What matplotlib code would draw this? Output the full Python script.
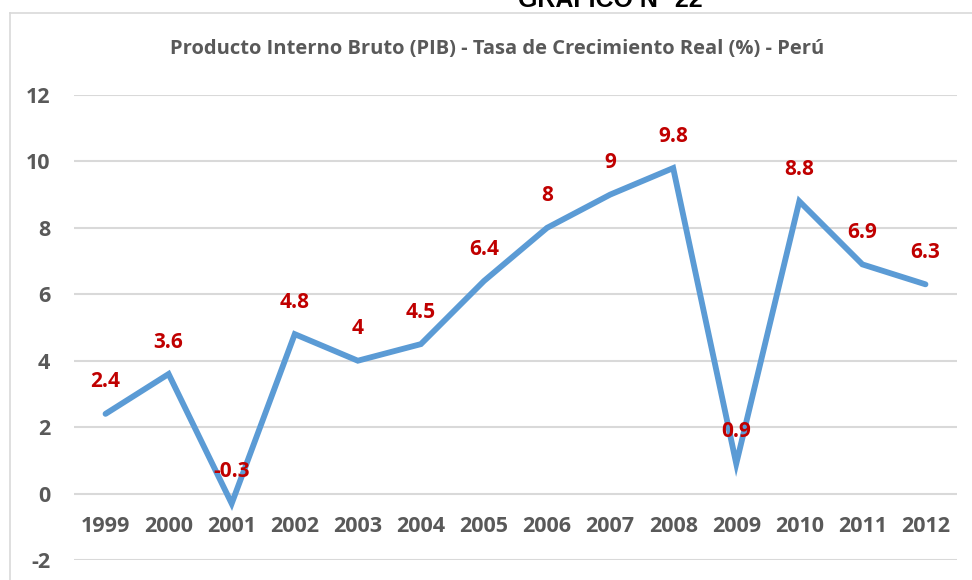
import numpy as np
import matplotlib.pyplot as plt
from matplotlib.lines import Line2D

years = ['1999', '2000', '2001', '2002', '2003', '2004', '2005',
         '2006', '2007', '2008', '2009', '2010', '2011', '2012']
growth = [2.4, 3.6, -0.3, 4.8, 4.0, 4.5, 6.4, 8.0, 9.0, 9.8, 0.9, 8.8, 6.9, 6.3]
labels = ['2.4', '3.6', '-0.3', '4.8', '4', '4.5', '6.4', '8', '9', '9.8',
          '0.9', '8.8', '6.9', '6.3']
yticks = [-2, 0, 2, 4, 6, 8, 10, 12]

plt.rcParams['font.family'] = ['Open Sans', 'DejaVu Sans']
grey = '#595959'

fig = plt.figure(figsize=(9.72, 5.8), dpi=100)
ax = fig.add_axes([74 / 972, 1 - 560 / 580, (957 - 74) / 972, (560 - 95) / 580])

x = np.arange(len(years))
ax.plot(x, growth, color='#5B9BD5', linewidth=4.2, solid_joinstyle='miter',
        solid_capstyle='round', zorder=3)
for xi, v, lab in zip(x, growth, labels):
    ax.annotate(lab, (xi, v), xytext=(0, 23), textcoords='offset points',
                ha='center', va='center', color='#C00000', fontsize=15,
                fontweight='bold', zorder=4)

ax.set_xlim(-0.5, len(years) - 0.5)
ax.set_ylim(-2, 12)
ax.set_yticks(yticks)
ax.set_yticklabels([str(t) for t in yticks])
ax.set_xticks(x)
ax.set_xticklabels(years)
ax.grid(axis='y', color='#D9D9D9', linewidth=1.5)
ax.set_axisbelow(True)
for s in ax.spines.values():
    s.set_visible(False)
ax.spines['bottom'].set_position(('data', 0))
ax.tick_params(axis='both', length=0, labelsize=15.5, labelcolor=grey)
ax.tick_params(axis='y', pad=17)
ax.tick_params(axis='x', pad=16)
for t in ax.get_xticklabels() + ax.get_yticklabels():
    t.set_fontweight('bold')

fig.text(497 / 972, 1 - 49 / 580,
         'Producto Interno Bruto (PIB) - Tasa de Crecimiento Real (%) - Perú',
         ha='center', va='center', fontsize=14.5, fontweight='bold', color=grey)
fig.text(610 / 972, 1 - 7 / 580, 'GRAFICO N° 22', ha='center', va='baseline',
         fontsize=18, fontweight='bold', color='black', family='Liberation Sans')

# chart border (left and top edges visible)
fig.add_artist(Line2D([10 / 972, 10 / 972], [0, 1 - 13 / 580],
                      transform=fig.transFigure, color='#D9D9D9', linewidth=1.2))
fig.add_artist(Line2D([10 / 972, 1], [1 - 13 / 580, 1 - 13 / 580],
                      transform=fig.transFigure, color='#D9D9D9', linewidth=1.2))

fig.savefig('out.png', dpi=100)
